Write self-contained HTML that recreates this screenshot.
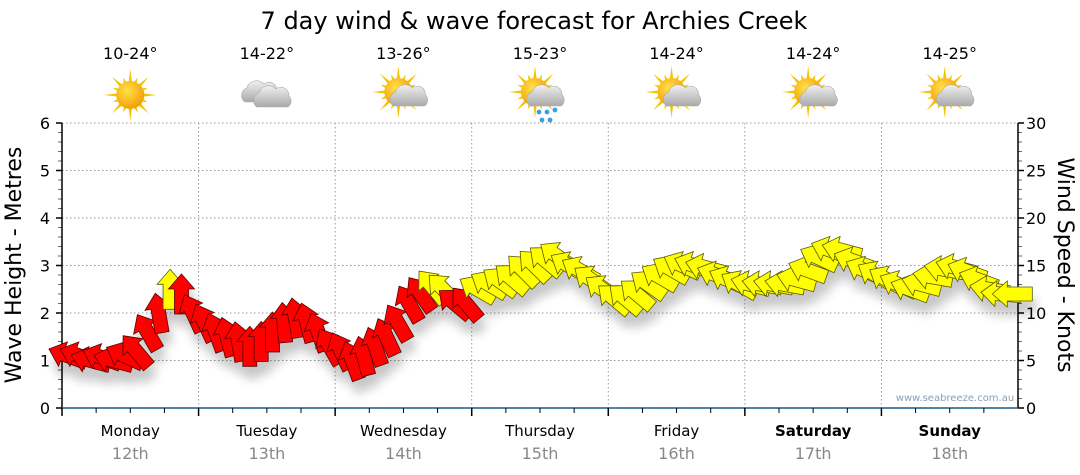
<!DOCTYPE html>
<html><head><meta charset="utf-8"><style>
body{margin:0;background:#fff;}
svg{display:block;font-family:"DejaVu Sans","Liberation Sans",sans-serif;}
</style></head><body>
<svg id="chart" width="1080" height="475" viewBox="0 0 1080 475">
<defs>
<filter id="sh" x="-50%" y="-50%" width="200%" height="250%"><feGaussianBlur in="SourceAlpha" stdDeviation="5"/><feOffset dx="3" dy="12"/><feComponentTransfer><feFuncA type="linear" slope="0.22"/></feComponentTransfer><feMerge><feMergeNode/><feMergeNode in="SourceGraphic"/></feMerge></filter>
<radialGradient id="sunG" cx="0.4" cy="0.35" r="0.7"><stop offset="0" stop-color="#ffe14a"/><stop offset="1" stop-color="#f29a00"/></radialGradient>
<linearGradient id="cloudG" x1="0" y1="0" x2="0" y2="1"><stop offset="0" stop-color="#f0f0f0"/><stop offset="1" stop-color="#a9a9a9"/></linearGradient>
</defs>
<text x="534" y="29" text-anchor="middle" font-size="24" fill="#000">7 day wind &amp; wave forecast for Archies Creek</text>
<g id="grid"></g>
<g id="header"></g>
<g id="axes"></g>
<g id="arrows" filter="url(#sh)"></g>
<text x="955" y="401" text-anchor="middle" font-size="10" fill="#8aa0b8">www.seabreeze.com.au</text>
<text transform="translate(21,265) rotate(-90)" text-anchor="middle" font-size="22" fill="#000">Wave Height - Metres</text>
<text transform="translate(1058,265) rotate(90)" text-anchor="middle" font-size="22" fill="#000">Wind Speed - Knots</text>
</svg>
<script>
const days=["Monday","Tuesday","Wednesday","Thursday","Friday","Saturday","Sunday"];
const dates=["12th","13th","14th","15th","16th","17th","18th"];
const temps=["10-24°","14-22°","13-26°","15-23°","14-24°","14-24°","14-25°"];
const icons=["sun","cloud","partly","rain","partly","partly","partly"];
const waveTicks=[0,1,2,3,4,5,6];
const windTicks=[0,5,10,15,20,25,30];
// wind speed (knots) every 2 hours
const windSpeed=[5.5,5.5,5,5.3,5,5.5,6,8,10,12.5,12,10,
 9,8,7.5,7,6.5,7,8,9,9.5,9,8,6.5,
 6,5,5.5,6.5,7.5,9,11,12,12.8,12.5,11,11,
 12.5,13,13.3,13.6,14.5,15,15.5,16,15,14.5,13.5,12.5,
 11.5,11.5,12,13,13.8,14.6,15,15,14.8,14,13.5,13,
 13,13,13,13,13.5,14.5,15.8,16.6,16.6,15.5,14.5,14,
 13.5,13,12.5,13,13.8,14.6,14.8,14.4,13.5,12.5,12,12];
// direction arrow points to (deg, 0=up, clockwise)
const windDir=[290,290,285,290,285,295,320,330,350,0,0,335,
 335,340,345,350,0,0,0,355,350,345,340,330,
 335,340,345,340,335,330,330,325,320,315,310,320,
 300,300,305,310,315,315,310,305,300,300,305,305,
 310,310,310,305,300,300,295,290,285,290,295,300,
 285,280,280,280,285,290,295,290,285,290,295,300,
 300,295,290,285,280,280,285,290,290,280,275,270];
const windColor=["r","r","r","r","r","r","r","r","r","y","r","r",
 "r","r","r","r","r","r","r","r","r","r","r","r",
 "r","r","r","r","r","r","r","r","y","y","r","r",
 "y","y","y","y","y","y","y","y","y","y","y","y",
 "y","y","y","y","y","y","y","y","y","y","y","y",
 "y","y","y","y","y","y","y","y","y","y","y","y",
 "y","y","y","y","y","y","y","y","y","y","y","y"];
const NS="http://www.w3.org/2000/svg";
const X0=62,X1=1018,Y0=408,Y1=123;
const dayW=(X1-X0)/7;
const xT=i=>X0+(i+0.5)*(X1-X0)/windSpeed.length;
const yWave=v=>Y0-(v/6)*(Y0-Y1);
const yWind=v=>Y0-(v/30)*(Y0-Y1);
function mk(tag,attrs,parent){const e=document.createElementNS(NS,tag);for(const k in attrs)e.setAttribute(k,attrs[k]);parent.appendChild(e);return e;}
const grid=document.getElementById('grid'),axes=document.getElementById('axes'),hdr=document.getElementById('header'),arr=document.getElementById('arrows');
waveTicks.forEach(v=>{if(v>0){const l=mk('line',{x1:X0,x2:X1,y1:yWave(v),y2:yWave(v),stroke:'#999','stroke-dasharray':'1.5,2.5','stroke-width':1},grid);

}
const t=mk('text',{x:50,y:yWave(v)+6,'text-anchor':'end','font-size':16,fill:'#000'},axes);t.textContent=v;


mk('line',{x1:X0-6,x2:X0,y1:yWave(v),y2:yWave(v),stroke:'#000','stroke-width':1.5},axes);
if(v<6){for(let m=1;m<5;m++){const y=yWave(v+m*0.2);mk('line',{x1:X0-4,x2:X0,y1:y,y2:y,stroke:'#666'},axes);}}
});
windTicks.forEach(v=>{const t=mk('text',{x:1026,y:yWind(v)+6,'font-size':16,fill:'#000'},axes);t.textContent=v;


mk('line',{x1:X1,x2:X1+6,y1:yWind(v),y2:yWind(v),stroke:'#000','stroke-width':1.5},axes);
if(v<30){for(let m=1;m<5;m++){const y=yWind(v+m);mk('line',{x1:X1,x2:X1+4,y1:y,y2:y,stroke:'#666'},axes);}}
});
mk('line',{x1:X0,x2:X0,y1:Y1,y2:Y0,stroke:'#000','stroke-width':1.5},axes);
mk('line',{x1:X1,x2:X1,y1:Y1,y2:Y0,stroke:'#000','stroke-width':1.5},axes);
mk('line',{x1:X0,x2:X1,y1:Y0,y2:Y0,stroke:'#1a5a8a','stroke-width':1.5},axes);
for(let d=0;d<7;d++){
 const xs=X0+d*dayW,cx=xs+dayW/2;
 if(d>0){const g=mk('line',{x1:xs,x2:xs,y1:Y1,y2:Y0,stroke:'#999','stroke-dasharray':'1.5,2.5'},grid);
 
 }
 mk('line',{x1:xs,x2:xs,y1:Y0,y2:Y0+8,stroke:'#000','stroke-width':1.5},axes);
 for(let q=1;q<4;q++){mk('line',{x1:xs+q*dayW/4,x2:xs+q*dayW/4,y1:Y0,y2:Y0+5,stroke:'#000'},axes);}
 const dn=mk('text',{x:cx,y:436,'text-anchor':'middle','font-size':15,fill:'#000','font-weight':d>=5?'bold':'normal'},axes);dn.textContent=days[d];
 
 
 const dt=mk('text',{x:cx,y:459,'text-anchor':'middle','font-size':16,fill:'#888'},axes);dt.textContent=dates[d];
 
 
 const tp=mk('text',{x:cx,y:59,'text-anchor':'middle','font-size':16,fill:'#000'},hdr);tp.textContent=temps[d];
 
 
 const g=mk('g',{transform:`translate(${cx},95)`},hdr);
 
 
 const ic=icons[d];
 if(ic!=='cloud'){const sx=ic==='sun'?0:-5,sy=ic==='sun'?0:-3;
  for(let r=0;r<16;r++){const a=r*Math.PI/8,L=r%2?19:26;mk('polygon',{points:`${sx+Math.cos(a)*L},${sy+Math.sin(a)*L} ${sx+Math.cos(a+0.15)*12},${sy+Math.sin(a+0.15)*12} ${sx+Math.cos(a-0.15)*12},${sy+Math.sin(a-0.15)*12}`,fill:'#f5c400'},g);}
  mk('circle',{cx:sx,cy:sy,r:14,fill:'url(#sunG)'},g);}
 const cloud=(ox,oy,s)=>{mk('path',{d:`M${ox-16},${oy+10} a8 8 0 0 1 2,-14 a10 10 0 0 1 17,-4 a8 8 0 0 1 13,7 a7 7 0 0 1 -1,11 z`,fill:'url(#cloudG)',stroke:'#aaa','stroke-width':0.6},g);};
 if(ic==='cloud'){cloud(-6,-3,1);cloud(6,2,1);}
 if(ic==='partly'||ic==='rain'){cloud(6,1,1);}
 if(ic==='rain'){[[-1,17],[7,17],[15,15],[2,25],[10,25]].forEach(p=>mk('circle',{cx:p[0],cy:p[1],r:2.4,fill:'#3aa0e0'},g));}
}
windSpeed.forEach((v,i)=>{
 const x=xT(i),y=yWind(v);
 const p=mk('polygon',{points:'0,-20 13,-5 7,-5 7,20 -7,20 -7,-5 -13,-5',fill:windColor[i]==='r'?'#ff0000':'#ffff00',stroke:windColor[i]==='r'?'#5a0000':'#5a5a00','stroke-width':0.8,transform:`translate(${x.toFixed(1)},${y.toFixed(1)}) rotate(${windDir[i]})`},arr);
 
 
});
</script>
</body></html>
